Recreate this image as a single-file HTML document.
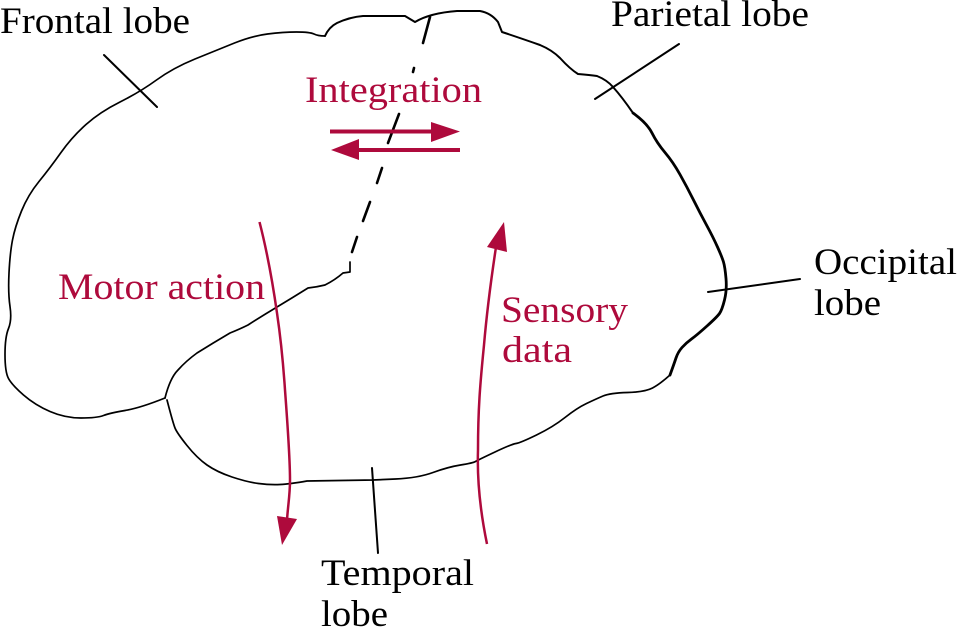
<!DOCTYPE html>
<html>
<head>
<meta charset="utf-8">
<style>
html,body{margin:0;padding:0;background:#fff;}
svg{display:block;}
text{font-family:"Liberation Serif",serif;font-size:37px;}
.k{fill:#000;}
.r{fill:#ae0a3c;}
</style>
</head>
<body>
<svg width="957" height="627" viewBox="0 0 957 627" xmlns="http://www.w3.org/2000/svg">
<g fill="none" stroke="#000" stroke-linejoin="round" stroke-linecap="round">
<path stroke-width="1.7" d="M325 36 Q318 36 314 34 Q310 32 296.5 32 Q283 32 267.5 34 Q252 36 234.5 43 Q217 50 195 59 Q173 68 156.5 80 Q140 92 120 102 Q100 112 86 124.5 Q72 137 61 152.5 Q50 168 39 181.5 Q28 195 21.5 211 Q15 227 12.5 240 Q10 253 9 273 Q8 293 10 306.5 Q12 320 8.5 328.5 Q5 337 5 354.5 Q5 372 8.5 378.5 Q12 385 23.5 395 Q35 405 50 411.5 Q65 418 81 418 Q97 418 103.5 415.5 Q110 413 125 410.5 Q140 408 165 398"/>
<path stroke-width="2" d="M325 36 Q329 27 337 23 Q350 17 363 16 L405 16 L415 22 Q430 13 457 11 L480 11 Q491 13 498 22 L502 32 Q523 39 540 45 Q552 50 560 58 Q570 69 578 74 Q590 75 597 76 Q607 80 613 87 Q622 97 633 113"/>
<path stroke-width="2.8" d="M633 113 Q647 123 652 133 Q657 143 665 152.5 Q673 162 680 174.5 Q687 187 693.5 200 Q700 213 706.5 225 Q713 237 717.5 247 Q722 257 723.5 262 Q725 267 726 278.5 Q727 290 724.5 300 Q722 310 719.5 313.5 Q717 317 707 326 Q697 335 691.5 339 Q686 343 682 347.5 Q678 352 676 358 Q674 364 670 375"/>
<path stroke-width="1.7" d="M670 375 Q660 384 652.5 388 Q645 392 627.5 392.5 Q610 393 603 396 Q596 399 586.5 403.5 Q577 408 565 417.5 Q553 427 536.5 435 Q520 443 516 443.5 Q512 444 495 452 Q478 460 475.5 461.5 Q473 463 460.5 465 Q448 467 433 472.5 Q418 478 395.5 479 L373 480 L307 481 Q290 484 280 484.5 Q270 485 258.5 483.5 Q247 482 232 477 Q217 472 207 465 Q197 458 187 445.5 Q177 433 175 428 Q173 423 167 400"/>
<path stroke-width="1.7" d="M165 398 Q170 378 178 370 Q186 361 197 353 Q213 343 230 333 Q240 329 248 325 Q262 316 277 307 Q292 298 308 288 Q317 287 325 285 Q335 280 343 273 L350 272 L350 262"/>
<g stroke-width="2.6">
<path d="M430 17 L423 43"/>
<path d="M414 68 L413 72"/>
<path d="M399 114 L388 143"/>
<path d="M382 168 L377 183"/>
<path d="M370 202 L363 221"/>
<path d="M357 237 L352 252"/>
</g>
<path stroke-width="2" d="M104 55 L157 107"/>
<path stroke-width="2" d="M595 99 L679 44"/>
<path stroke-width="2" d="M708 292 L800 279"/>
<path stroke-width="2" d="M372 468 L378 553"/>
</g>
<g fill="none" stroke="#ae0a3c" stroke-linecap="butt">
<path stroke-width="4" d="M330 131.5 L435 131.5"/>
<path stroke-width="4" d="M355 150 L460 150"/>
<path stroke-width="2.5" d="M259.5 222 C268 255 273 285 277 313 C281 340 283 360 285 390 C288 430 290 460 290 480 C290 495 288 505 287 520"/>
<path stroke-width="2.5" d="M487 544 C480 510 477 480 478 450 C478 410 480 385 484 345 C487 310 491 280 496 247"/>
</g>
<g fill="#ae0a3c">
<path d="M460 131.5 L431 122 L431 142 Z"/>
<path d="M331 150 L359 139 L359 160 Z"/>
<path d="M282 545 L277 516 L297 519 Z"/>
<path d="M504 222 L487 247 L507 252 Z"/>
</g>
<text class="k" x="0" y="33" textLength="190" lengthAdjust="spacingAndGlyphs">Frontal lobe</text>
<text class="k" x="611" y="26" textLength="198" lengthAdjust="spacingAndGlyphs">Parietal lobe</text>
<text class="k" x="814" y="274" textLength="143" lengthAdjust="spacingAndGlyphs">Occipital</text>
<text class="k" x="814" y="315" textLength="67" lengthAdjust="spacingAndGlyphs">lobe</text>
<text class="k" x="321" y="585" textLength="153" lengthAdjust="spacingAndGlyphs">Temporal</text>
<text class="k" x="321" y="626" textLength="67" lengthAdjust="spacingAndGlyphs">lobe</text>
<text class="r" x="305" y="102" textLength="177" lengthAdjust="spacingAndGlyphs">Integration</text>
<text class="r" x="58" y="299" textLength="207" lengthAdjust="spacingAndGlyphs">Motor action</text>
<text class="r" x="501" y="322" textLength="127" lengthAdjust="spacingAndGlyphs">Sensory</text>
<text class="r" x="502" y="362" textLength="70" lengthAdjust="spacingAndGlyphs">data</text>
</svg>
</body>
</html>
